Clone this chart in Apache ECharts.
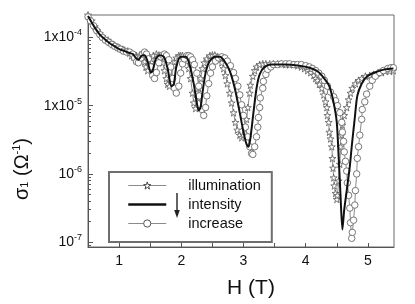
<!DOCTYPE html>
<html>
<head>
<meta charset="utf-8">
<script src="https://cdn.jsdelivr.net/npm/echarts@6/dist/echarts.min.js"></script>
<style>html,body{margin:0;padding:0;background:#fff}#c{width:415px;height:304px}</style>
</head>
<body>
<div id="c"></div>
<script>
// ---- data (H in tesla, sigma_1 in 1/Ohm) ----
const seriesNames = ['illumination', 'intensity', 'increase'];

const starH = [0.50,0.56,0.61,0.65,0.69,0.73,0.77,0.82,0.85,0.90,0.93,0.98,1.01,1.06,1.09,1.14,1.17,1.20,1.23,1.28,1.33,1.38,1.41,1.43,1.46,1.49,1.52,1.55,1.60,1.64,1.67,1.70,1.73,1.76,1.78,1.81,1.84,1.88,1.89,1.92,1.96,1.99,2.02,2.05,2.09,2.12,2.15,2.18,2.20,2.23,2.26,2.28,2.31,2.34,2.37,2.41,2.46,2.50,2.54,2.58,2.62,2.65,2.68,2.71,2.74,2.78,2.81,2.84,2.87,2.90,2.94,2.97,3.00,3.02,3.05,3.07,3.10,3.11,3.15,3.18,3.21,3.26,3.31,3.36,3.42,3.48,3.55,3.61,3.68,3.74,3.81,3.87,3.93,3.98,4.03,4.08,4.13,4.16,4.19,4.22,4.26,4.29,4.32,4.34,4.35,4.37,4.38,4.40,4.42,4.43,4.44,4.45,4.46,4.48,4.50,4.51,4.53,4.55,4.56,4.58,4.59,4.62,4.66,4.69,4.72,4.75,4.80,4.85,4.90,4.96,5.03,5.09,5.16,5.22,5.28,5.35,5.41];
const starSigma = [2.13e-4,1.75e-4,1.44e-4,1.26e-4,1.14e-4,1.03e-4,9.7e-5,9.1e-5,8.5e-5,7.9e-5,7.7e-5,7.2e-5,7.0e-5,6.7e-5,6.5e-5,6.3e-5,5.9e-5,5.4e-5,5.2e-5,5.4e-5,5.5e-5,5.2e-5,4.4e-5,3.7e-5,3.27e-5,4.0e-5,4.85e-5,5.4e-5,5.7e-5,5.5e-5,5.2e-5,4.25e-5,3.27e-5,2.5e-5,2.06e-5,1.93e-5,2.7e-5,3.85e-5,4.4e-5,5.0e-5,5.4e-5,5.4e-5,5.4e-5,5.0e-5,4.5e-5,3.5e-5,2.5e-5,1.53e-5,1.1e-5,9.1e-6,1.3e-5,1.8e-5,2.5e-5,3.5e-5,4.25e-5,4.85e-5,5.4e-5,5.5e-5,5.5e-5,5.2e-5,4.85e-5,4.25e-5,3.5e-5,2.77e-5,2.1e-5,1.53e-5,1.1e-5,7.9e-6,5.7e-6,4.4e-6,3.7e-6,3.4e-6,3.7e-6,4.5e-6,6.3e-6,9.4e-6,1.53e-5,2.0e-5,2.7e-5,3.27e-5,3.7e-5,4.0e-5,4.1e-5,4.1e-5,4.1e-5,4.1e-5,4.1e-5,4.1e-5,4.0e-5,4.0e-5,4.0e-5,3.85e-5,3.7e-5,3.5e-5,3.27e-5,3.06e-5,2.77e-5,2.5e-5,2.35e-5,2.06e-5,1.8e-5,1.44e-5,1.14e-5,9.4e-6,7.2e-6,5.7e-6,4.1e-6,3.27e-6,2.5e-6,1.69e-6,1.22e-6,8.8e-7,6.7e-7,5.2e-7,4.25e-7,4.85e-7,7.9e-7,1.39e-6,2.5e-6,3.7e-6,5.2e-6,7.2e-6,9.4e-6,1.22e-5,1.53e-5,1.8e-5,2.1e-5,2.35e-5,2.5e-5,2.7e-5,2.77e-5,2.87e-5,3.0e-5,3.06e-5,3.2e-5,3.2e-5,3.27e-5];

const solidH = [0.50,0.61,0.69,0.77,0.85,0.93,1.01,1.09,1.17,1.22,1.27,1.31,1.36,1.41,1.46,1.51,1.54,1.59,1.65,1.72,1.78,1.84,1.88,1.92,1.99,2.07,2.13,2.20,2.25,2.28,2.31,2.34,2.39,2.45,2.54,2.62,2.70,2.78,2.86,2.94,3.00,3.05,3.08,3.11,3.16,3.21,3.26,3.34,3.45,3.66,3.90,4.06,4.19,4.30,4.38,4.45,4.50,4.53,4.56,4.59,4.62,4.66,4.71,4.74,4.79,4.83,4.90,4.99,5.11,5.27,5.41];
const solidSigma = [2.06e-4,1.39e-4,1.10e-4,9.4e-5,8.2e-5,7.4e-5,6.7e-5,6.3e-5,5.9e-5,5.7e-5,5.0e-5,4.7e-5,5.4e-5,5.5e-5,4.4e-5,3.06e-5,3.27e-5,4.85e-5,5.5e-5,5.2e-5,3.5e-5,1.93e-5,2.06e-5,3.7e-5,5.2e-5,5.2e-5,4.1e-5,2.1e-5,1.1e-5,8.5e-6,9.4e-6,1.53e-5,3.0e-5,4.4e-5,5.2e-5,5.2e-5,4.4e-5,3.2e-5,1.8e-5,7.9e-6,4.1e-6,2.7e-6,2.5e-6,3.27e-6,7.9e-6,1.8e-5,2.87e-5,3.7e-5,4.0e-5,4.0e-5,3.85e-5,3.6e-5,3.2e-5,2.5e-5,1.93e-5,1.1e-5,5.7e-6,1.8e-6,4.85e-7,1.53e-7,3.0e-7,5.7e-7,1.3e-6,2.5e-6,6.7e-6,1.39e-5,2.1e-5,2.7e-5,3.06e-5,3.4e-5,3.5e-5];

const circleH = [0.50,0.54,0.59,0.64,0.69,0.73,0.78,0.83,0.88,0.93,0.98,1.02,1.07,1.12,1.17,1.22,1.25,1.28,1.31,1.35,1.38,1.41,1.44,1.47,1.51,1.54,1.57,1.60,1.64,1.67,1.70,1.73,1.76,1.80,1.83,1.86,1.89,1.92,1.96,1.99,2.02,2.05,2.09,2.12,2.15,2.18,2.21,2.25,2.28,2.29,2.33,2.36,2.39,2.41,2.44,2.47,2.50,2.55,2.60,2.65,2.70,2.74,2.79,2.84,2.87,2.91,2.94,2.97,3.00,3.03,3.07,3.10,3.13,3.15,3.18,3.21,3.23,3.24,3.26,3.27,3.31,3.32,3.36,3.39,3.44,3.48,3.55,3.61,3.68,3.74,3.81,3.87,3.93,4.00,4.06,4.11,4.16,4.21,4.26,4.30,4.35,4.40,4.45,4.48,4.51,4.55,4.58,4.59,4.61,4.62,4.64,4.66,4.67,4.69,4.71,4.72,4.74,4.75,4.77,4.79,4.80,4.82,4.83,4.85,4.87,4.90,4.91,4.95,4.98,5.03,5.07,5.12,5.19,5.25,5.32,5.37,5.41];
const circleSigma = [2.0e-4,1.75e-4,1.48e-4,1.26e-4,1.10e-4,1.0e-4,9.1e-5,8.5e-5,7.9e-5,7.4e-5,7.0e-5,6.7e-5,6.3e-5,6.1e-5,6.1e-5,5.7e-5,5.0e-5,4.4e-5,4.25e-5,5.0e-5,5.7e-5,6.1e-5,5.7e-5,4.85e-5,3.7e-5,2.77e-5,2.5e-5,3.06e-5,4.25e-5,5.2e-5,5.5e-5,5.7e-5,5.4e-5,4.7e-5,3.7e-5,2.5e-5,1.8e-5,1.53e-5,1.93e-5,3.0e-5,4.1e-5,4.85e-5,5.4e-5,5.4e-5,5.2e-5,4.7e-5,4.0e-5,3.0e-5,1.93e-5,1.39e-5,8.8e-6,7.2e-6,9.4e-6,1.39e-5,2.1e-5,3.0e-5,3.7e-5,4.5e-5,5.0e-5,5.2e-5,5.0e-5,4.5e-5,3.85e-5,3.06e-5,2.5e-5,1.93e-5,1.44e-5,1.03e-5,7.2e-6,4.85e-6,3.5e-6,2.5e-6,2.0e-6,1.93e-6,2.5e-6,3.5e-6,4.85e-6,6.7e-6,9.4e-6,1.3e-5,1.8e-5,2.27e-5,2.87e-5,3.4e-5,3.7e-5,4.0e-5,4.0e-5,4.1e-5,4.1e-5,4.1e-5,4.0e-5,4.0e-5,4.0e-5,3.85e-5,3.7e-5,3.5e-5,3.27e-5,3.0e-5,2.7e-5,2.35e-5,1.93e-5,1.58e-5,1.35e-5,1.18e-5,1.0e-5,7.9e-6,5.7e-6,4.1e-6,3.0e-6,2.1e-6,1.53e-6,1.1e-6,7.4e-7,4.85e-7,3.16e-7,1.93e-7,1.14e-7,1.39e-7,2.1e-7,3.5e-7,5.7e-7,1.0e-6,1.69e-6,2.5e-6,3.7e-6,6.3e-6,8.8e-6,1.14e-5,1.48e-5,1.93e-5,2.35e-5,2.7e-5,3.06e-5,3.27e-5,3.5e-5,3.6e-5,3.6e-5];

// ---- axes ----
const xMajorTicks = [1, 2, 3, 4, 5];
const xMinorTicks = [0.5, 1, 1.5, 2, 2.5, 3, 3.5, 4, 4.5, 5];
const yMajorTicks = [1e-7, 1e-6, 1e-5, 1e-4];
const yTickMantissa = ['10', '10', '1x10', '1x10'];
const yTickExponent = ['-7', '-6', '-5', '-4'];
const yMinorTicks = [9e-8,2e-7,3e-7,4e-7,5e-7,6e-7,7e-7,8e-7,9e-7,2e-6,3e-6,4e-6,5e-6,6e-6,7e-6,8e-6,9e-6,2e-5,3e-5,4e-5,5e-5,6e-5,7e-5,8e-5,9e-5,2e-4];
const xName = 'H (T)';

const FONT = '"Liberation Sans", Arial, Helvetica, sans-serif';
const zip = (a, b) => a.map((v, i) => [v, b[i]]);
const starPath = 'path://M50,2 L61,36 L97,36 L68,57 L79,92 L50,71 L21,92 L32,57 L3,36 L39,36 Z';
const markerLine = {color: '#8a8a8a', width: 1};

const chart = echarts.init(document.getElementById('c'), null, {renderer: 'canvas'});
chart.setOption({
  animation: false,
  backgroundColor: '#fff',
  grid: {left: 88, right: 21, top: 15, bottom: 51, show: true, borderColor: '#6a6a6a', borderWidth: 1, backgroundColor: 'transparent'},
  xAxis: {
    type: 'value', min: 0.5, max: 5.42,
    axisLine: {show: true, lineStyle: {color: '#555', width: 1}},
    axisTick: {show: true, inside: true, length: 4, customValues: xMinorTicks, lineStyle: {color: '#555'}},
    axisLabel: {customValues: xMajorTicks, color: '#111', fontSize: 14, fontFamily: FONT, margin: 7,
      formatter: v => String(Math.round(v))},
    splitLine: {show: false},
    name: xName, nameLocation: 'middle', nameGap: 31,
    nameTextStyle: {fontSize: 21, color: '#111', fontFamily: FONT, padding: [0, 0, 0, 20]}
  },
  yAxis: [{
    type: 'log', logBase: 10, min: 8.5e-8, max: 2.13e-4, position: 'left',
    axisLine: {show: true, lineStyle: {color: '#555', width: 1}},
    axisTick: {show: true, inside: true, length: 5, customValues: yMajorTicks, lineStyle: {color: '#555'}},
    axisLabel: {customValues: yMajorTicks, margin: 6,
      formatter: v => {
        const i = yMajorTicks.findIndex(t => Math.abs(Math.log10(t) - Math.log10(v)) < 0.01);
        if (i < 0) return '';
        return '{m|' + yTickMantissa[i] + '}{e|' + yTickExponent[i] + '}';
      },
      rich: {
        m: {fontSize: 14, color: '#111', fontFamily: FONT},
        e: {fontSize: 9, color: '#111', fontFamily: FONT, padding: [0, 0, 9, 0]}
      }},
    splitLine: {show: false},
    name: '{s|σ}{b|1}{s| (Ω}{t|-1}{s|)}', nameLocation: 'middle', nameGap: 47, nameRotate: 90,
    nameTextStyle: {padding: [0, 76, 0, 0],
      rich: {
        s: {fontSize: 20, color: '#111', fontFamily: FONT},
        b: {fontSize: 11, color: '#111', fontFamily: FONT, padding: [0, 0, -4, 0]},
        t: {fontSize: 11, color: '#111', fontFamily: FONT, padding: [0, 0, 12, 0]}
      }}
  }, {
    type: 'log', logBase: 10, min: 8.5e-8, max: 2.13e-4, position: 'left',
    axisLine: {show: false},
    axisTick: {show: true, inside: true, length: 3, customValues: yMinorTicks, lineStyle: {color: '#555'}},
    axisLabel: {show: false},
    splitLine: {show: false}
  }],
  legend: {
    left: 109, top: 172, orient: 'vertical', selectedMode: false,
    data: [
      {name: seriesNames[0], itemStyle: {color: '#fff', borderColor: '#444', borderWidth: 1}, lineStyle: markerLine},
      {name: seriesNames[1], itemStyle: {opacity: 0}, lineStyle: {color: '#111', width: 2.5}},
      {name: seriesNames[2], itemStyle: {color: '#fff', borderColor: '#555', borderWidth: 1}, lineStyle: markerLine}
    ],
    itemWidth: 38, itemHeight: 9, itemGap: 4,
    padding: [6, 11, 11, 18],
    borderColor: '#6e6e6e', borderWidth: 2, borderRadius: 0,
    textStyle: {fontSize: 14.5, color: '#111', fontFamily: FONT, lineHeight: 14.5, padding: [0, 0, 0, 17]}
  },
  graphic: [
    {type: 'line', z: 100, shape: {x1: 177, y1: 193, x2: 177, y2: 212}, style: {stroke: '#222', lineWidth: 1.4}},
    {type: 'polygon', z: 100, shape: {points: [[174.2, 210], [179.8, 210], [177, 218]]}, style: {fill: '#222'}}
  ],
  series: [
    {
      name: seriesNames[0], type: 'line', data: zip(starH, starSigma), clip: true,
      symbol: starPath, symbolSize: 7, showSymbol: true, showAllSymbol: true,
      itemStyle: {color: '#fff', borderColor: '#5a5a5a', borderWidth: 0.8},
      lineStyle: markerLine, z: 2
    },
    {
      name: seriesNames[2], type: 'line', data: zip(circleH, circleSigma), clip: true,
      symbol: 'circle', symbolSize: 6.5, showSymbol: true, showAllSymbol: true,
      itemStyle: {color: '#fff', borderColor: '#6a6a6a', borderWidth: 0.9},
      lineStyle: markerLine, z: 3
    },
    {
      name: seriesNames[1], type: 'line', data: zip(solidH, solidSigma), clip: true,
      symbol: 'none', smooth: 0.25,
      lineStyle: {color: '#111', width: 2}, itemStyle: {color: '#111'}, z: 4
    }
  ]
});
</script>
</body>
</html>
